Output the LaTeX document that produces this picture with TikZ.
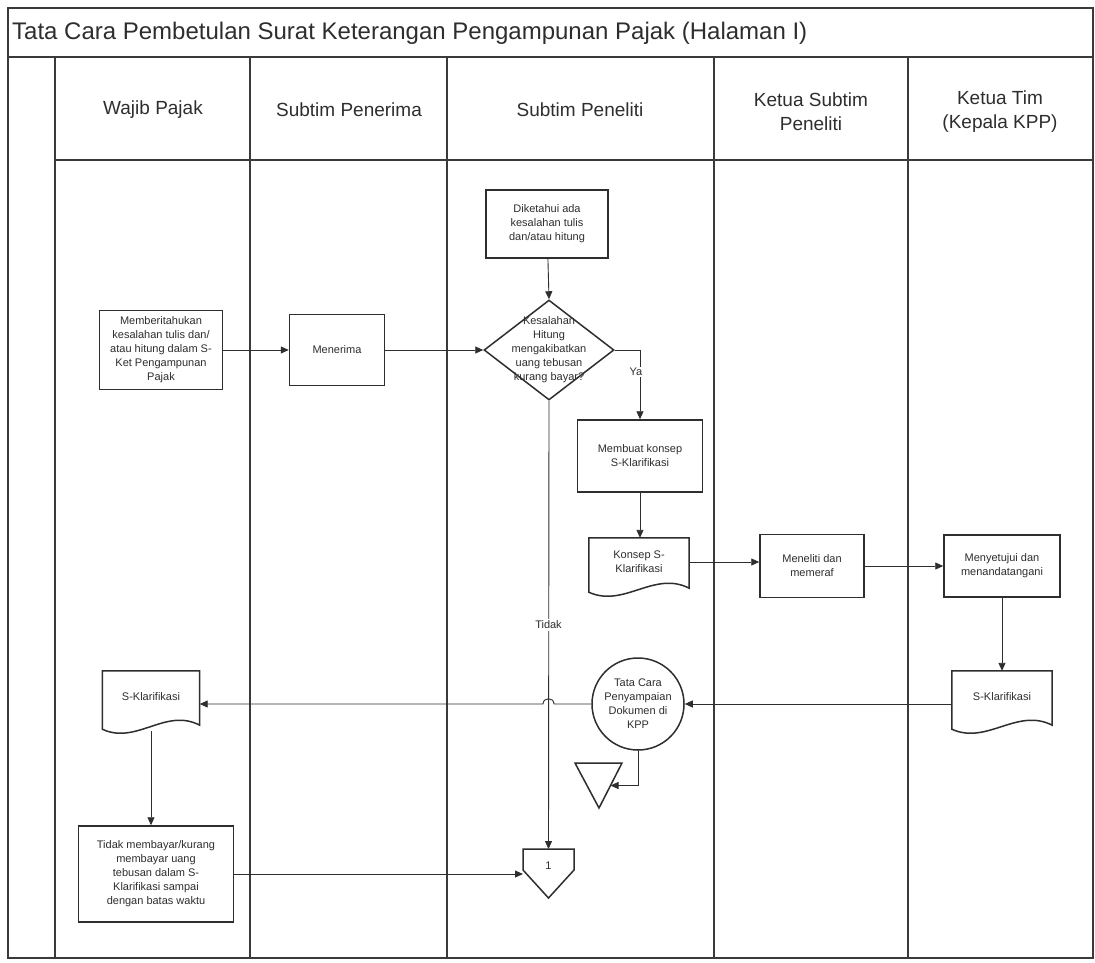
\documentclass[tikz,border=0pt]{standalone}
\usepackage{fontspec}
\setmainfont{Liberation Sans}
\usetikzlibrary{arrows.meta,shapes.geometric,calc}
\definecolor{ink}{HTML}{2E2E2E}
\definecolor{laneink}{HTML}{3A3A3A}
\newcommand\docframe[1]{%
  \draw[boxline] ($(#1.south west)+(0,6)$) -- (#1.north west) -- (#1.north east) -- ($(#1.south east)+(0,2)$)
    .. controls ($(#1.south east)!0.35!(#1.south west)+(0,-16)$) and ($(#1.south east)!0.65!(#1.south west)+(0,22)$) .. ($(#1.south west)+(0,6)$) -- cycle;}
\begin{document}
\begin{tikzpicture}[x=1pt,y=-1pt,
  boxline/.style={draw=ink,line width=1.5pt,fill=white},
  lane/.style={draw=laneink,line width=1.6pt},
  txt/.style={align=center,font=\fontsize{11}{14}\selectfont,text=ink,inner sep=0pt},
  box/.style={boxline,txt,shape=rectangle},
  docnode/.style={txt,shape=rectangle},
  head/.style={align=center,font=\fontsize{19}{24}\selectfont,text=ink},
  conn/.style={draw=ink,line width=0.9pt,-{Triangle[length=8pt,width=7pt]}},
  lbl/.style={txt,fill=white,inner sep=1.5pt}
]
\useasboundingbox (0,0) rectangle (1095,962);
\fill[white] (0,0) rectangle (1095,962);

% frame and lanes
\draw[lane] (8,8) rectangle (1093,958);
\draw[lane] (8,57) -- (1093,57);
\draw[lane] (55,160) -- (1093,160);
\foreach \lx in {55,250,447,714,908} \draw[lane] (\lx,57) -- (\lx,958);

\node[anchor=west,font=\fontsize{24}{28}\selectfont,text=ink,inner sep=0pt] (title) at (12,33)
  {Tata Cara Pembetulan Surat Keterangan Pengampunan Pajak (Halaman I)};
\node[head] (h1) at (153,110) {Wajib Pajak};
\node[head] (h2) at (349,110) {Subtim Penerima};
\node[head] (h3) at (580,110) {Subtim Peneliti};
\node[head] (h4) at (811,112) {Ketua Subtim\\Peneliti};
\node[head] (h5) at (1000,112) {Ketua Tim\\(Kepala KPP)};

% nodes
\node[box,minimum width=123,minimum height=79] (beri) at (161,350)
  {Memberitahukan\\kesalahan tulis dan/\\atau hitung dalam S-\\Ket Pengampunan\\Pajak};
\node[box,minimum width=95,minimum height=71] (terima) at (337,350) {Menerima};
\node[box,minimum width=122,minimum height=68] (tahu) at (547,224)
  {Diketahui ada\\kesalahan tulis\\dan/atau hitung};
\node[boxline,shape=diamond,minimum width=130,minimum height=100,inner sep=0pt] (dia) at (549,350) {};
\node[txt] (diatxt) at (dia.center) {Kesalahan\\Hitung\\mengakibatkan\\uang tebusan\\kurang bayar?};
\node[box,minimum width=125,minimum height=72] (konsepbuat) at (640,456) {Membuat konsep\\S-Klarifikasi};
\node[docnode,minimum width=100,minimum height=48] (konsep) at (639,562) {};
\docframe{konsep}
\node[txt] at (konsep.center) {Konsep S-\\Klarifikasi};
\node[box,minimum width=104,minimum height=63] (teliti) at (812,566) {Meneliti dan\\memeraf};
\node[box,minimum width=116,minimum height=62] (setuju) at (1002,566) {Menyetujui dan\\menandatangani};
\node[docnode,minimum width=100,minimum height=52] (sk2) at (1002,697) {};
\docframe{sk2}
\node[txt] at (sk2.center) {S-Klarifikasi};
\node[boxline,shape=circle,minimum size=92,inner sep=0pt] (circ) at (638,704) {};
\node[txt] at (circ.center) {Tata Cara\\Penyampaian\\Dokumen di\\KPP};
\node[docnode,minimum width=97,minimum height=52] (sk1) at (151,697) {};
\docframe{sk1}
\node[txt] at (sk1.center) {S-Klarifikasi};
\node[box,minimum width=155,minimum height=96] (tidak) at (156,874)
  {Tidak membayar/kurang\\membayar uang\\tebusan dalam S-\\Klarifikasi sampai\\dengan batas waktu};

% merge triangle
\coordinate (tria) at (575,763);
\coordinate (trib) at (622,763);
\coordinate (tric) at (599,808);
\draw[boxline] (tria) -- (trib) -- (tric) -- cycle;
\coordinate (trir) at ($(trib)!0.5!(tric)$);

% off-page connector
\draw[boxline] (523,849) -- (574,849) -- (574,870) -- (548.5,898) -- (523,870) -- cycle;
\node[txt,minimum width=51,minimum height=20] (off) at (548.5,866) {1};
\coordinate (offtop) at (548.5,849);
\coordinate (offleft) at (523,874);

% connectors
\draw[conn] (beri) -- (terima);
\draw[conn] (terima) -- (dia.west);
\draw[conn] (tahu) -- (dia.north);
\draw[conn] (dia.east) -| (konsepbuat.north);
\node[lbl] at (636,372) {Ya};
\draw[conn] (dia.south) -- (offtop);
\node[lbl] at (548.5,625) {Tidak};
\draw[conn] (konsepbuat.south) -- (konsepbuat.south |- konsep.north);
\draw[conn] (konsep.east) -- (teliti.west |- konsep.east);
\draw[conn] (teliti) -- (setuju);
\draw[conn] (setuju) -- (sk2.north);
\draw[conn] (sk2.west |- circ.east) -- (circ.east);
\draw[conn] (circ.west) -- (554,704) .. controls (554,697) and (543,697) .. (543,704) -- (sk1.east |- circ.west);
\draw[conn] (circ.south) |- (trir);
\draw[conn] ($(sk1.south)+(0,8)$) -- (sk1.south |- tidak.north);
\draw[conn] (tidak.east) -- (offleft);
\end{tikzpicture}
\end{document}
